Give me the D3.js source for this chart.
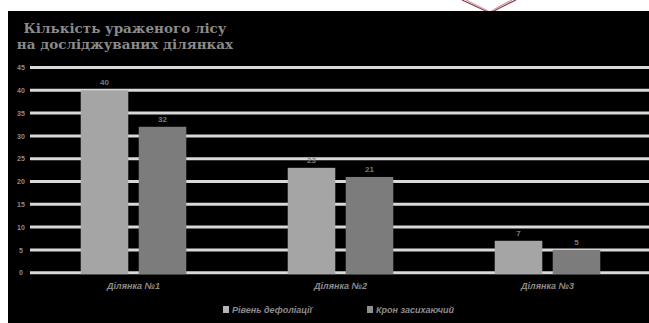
<!DOCTYPE html>
<html><head><meta charset="utf-8">
<script src="https://cdn.jsdelivr.net/npm/d3@7"></script>
<style>html,body{margin:0;padding:0;background:#fff;}svg{display:block;}</style>
</head><body>
<script>
const categories = ["Ділянка №1", "Ділянка №2", "Ділянка №3"];
const seriesNames = ["Рівень дефоліації", "Крон засихаючий"];
const series1 = [40, 23, 7];
const series2 = [32, 21, 5];
const yTicks = [0, 5, 10, 15, 20, 25, 30, 35, 40, 45];
const titleLines = ["Кількість ураженого лісу", "на досліджуваних ділянках"];

const W = 649, H = 323;
const colors = ["#a5a5a5", "#7c7c7c"];
const svg = d3.select("body").append("svg").attr("width", W).attr("height", H);

// background
svg.append("rect").attr("width", W).attr("height", H).attr("fill", "#fff");

// decoration at top (in white strip)
const deco = svg.append("g").attr("fill", "none").attr("stroke", "#8a3a4a").attr("stroke-width", 1.2);
deco.append("path").attr("d", "M462,0 Q475,6 488,12 M516,0 Q503,6 492,12");
deco.append("path").attr("d", "M466,0 Q478,6 490,12 M512,0 Q500,6 490,12").attr("stroke", "#c99aa4");

svg.append("rect").attr("x", 8).attr("y", 11).attr("width", W - 8).attr("height", H - 11).attr("fill", "#000");

const y = d3.scaleLinear().domain([0, 45]).range([272.7, 67.5]);
const x0 = d3.scaleBand().domain(categories).range([30, 651]).paddingInner(0.49).paddingOuter(0.245);
const x1 = d3.scaleBand().domain(seriesNames).range([0, x0.bandwidth()]).paddingInner(0.18);

// gridlines
svg.append("g").selectAll("line").data(yTicks).join("line")
  .attr("x1", 30).attr("x2", W).attr("y1", d => y(d)).attr("y2", d => y(d))
  .attr("stroke", "#d9d9d9").attr("stroke-width", 3);

// y tick labels
const yAxis = d3.axisLeft(y).tickValues(yTicks).tickSize(0).tickPadding(0);
const ya = svg.append("g").attr("transform", "translate(21,0)").call(yAxis);
ya.select(".domain").remove();
ya.selectAll("text").attr("fill", "#8c8c8c").attr("font-family", "Liberation Sans, Arial").attr("font-size", 7).attr("font-weight", "bold").attr("text-anchor", "middle");

const data = categories.map((c, i) => ({c, vals: [series1[i], series2[i]]}));
const groups = svg.append("g").selectAll("g").data(data).join("g")
  .attr("transform", d => `translate(${x0(d.c)},0)`);
groups.selectAll("rect").data(d => d.vals.map((v, j) => ({v, s: seriesNames[j], j}))).join("rect")
  .attr("x", d => x1(d.s)).attr("width", x1.bandwidth())
  .attr("y", d => y(d.v)).attr("height", d => y(0) - y(d.v) + 1.5)
  .attr("fill", d => colors[d.j]);
groups.selectAll("text").data(d => d.vals.map((v, j) => ({v, s: seriesNames[j], j}))).join("text")
  .attr("x", d => x1(d.s) + x1.bandwidth() / 2).attr("y", d => y(d.v) - 5)
  .attr("text-anchor", "middle").attr("fill", "#7a7a7a")
  .attr("font-family", "Liberation Sans, Arial").attr("font-size", 8).attr("font-weight", "bold")
  .text(d => d.v);

// category labels
const xAxis = d3.axisBottom(x0).tickSize(0).tickPadding(0);
const xa = svg.append("g").attr("transform", "translate(0,283)").call(xAxis);
xa.select(".domain").remove();
xa.selectAll("text").attr("fill", "#8c8c8c").attr("font-family", "Liberation Sans, Arial").attr("font-size", 9).attr("font-weight", "bold").attr("font-style", "italic");

// title
svg.append("g").selectAll("text").data(titleLines).join("text")
  .attr("x", 125).attr("y", (d, i) => 33 + i * 16)
  .attr("text-anchor", "middle").attr("fill", "#8a8a8a")
  .attr("font-family", "DejaVu Serif, serif").attr("font-size", 13.5).attr("font-weight", "bold")
  .text(d => d);

// legend
const legX = [223, 367];
const leg = svg.append("g").selectAll("g").data(seriesNames).join("g")
  .attr("transform", (d, i) => `translate(${legX[i]},306)`);
leg.append("rect").attr("width", 6).attr("height", 7).attr("fill", (d, i) => i === 1 ? "#8f8f8f" : "#b5b5b5");
leg.append("text").attr("x", 9).attr("y", 6.5).attr("fill", "#8c8c8c")
  .attr("font-family", "Liberation Sans, Arial").attr("font-size", 9).attr("font-weight", "bold").attr("font-style", "italic")
  .text(d => d);
</script>
</body></html>
